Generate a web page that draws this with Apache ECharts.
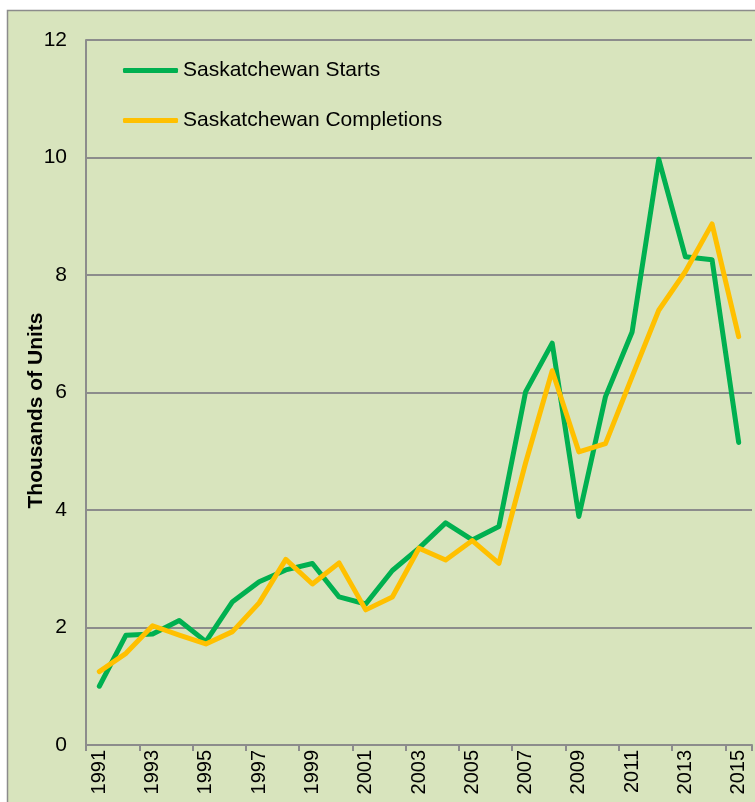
<!DOCTYPE html>
<html>
<head>
<meta charset="utf-8">
<script src="https://cdn.jsdelivr.net/npm/echarts@6/dist/echarts.min.js"></script>
<style>
  html, body { margin: 0; padding: 0; background: #fff; }
  #chart { width: 755px; height: 802px; }
</style>
</head>
<body>
<div id="chart"></div>
<script>
var years = ['1991', '1992', '1993', '1994', '1995', '1996', '1997', '1998', '1999', '2000',
    '2001', '2002', '2003', '2004', '2005', '2006', '2007', '2008', '2009', '2010',
    '2011', '2012', '2013', '2014', '2015'];
// thousands of units
var starts = [1.00, 1.87, 1.89, 2.12, 1.76, 2.44, 2.78, 2.98, 3.09, 2.52,
    2.40, 2.97, 3.35, 3.78, 3.49, 3.72, 6.01, 6.84, 3.89, 5.93,
    7.03, 9.97, 8.31, 8.26, 5.15];
var completions = [1.25, 1.56, 2.03, 1.87, 1.72, 1.93, 2.42, 3.16, 2.74, 3.10,
    2.30, 2.52, 3.35, 3.15, 3.48, 3.09, 4.80, 6.37, 4.99, 5.13,
    6.27, 7.40, 8.06, 8.87, 6.95];

var chart = echarts.init(document.getElementById('chart'));
var font = 'Liberation Sans, Arial, sans-serif';
var gray = '#8c8c8c';

var option = {
    backgroundColor: '#fff',
    animation: false,
    textStyle: { fontFamily: font },
    graphic: [{
        type: 'rect',
        z: -100,
        shape: { x: 7.5, y: 10.5, width: 800, height: 820 },
        style: { fill: '#d8e4bd', stroke: gray, lineWidth: 1.5 }
    }],
    grid: { left: 86, top: 40, right: 3, bottom: 57 },
    legend: {
        orient: 'vertical',
        left: 123,
        top: 60,
        padding: 0,
        itemWidth: 55,
        itemHeight: 5,
        itemGap: 29,
        icon: 'roundRect',
        textStyle: { fontSize: 21, color: '#000', fontFamily: font },
        data: ['Saskatchewan Starts', 'Saskatchewan Completions']
    },
    xAxis: {
        type: 'category',
        data: years,
        boundaryGap: true,
        axisLine: { lineStyle: { color: gray, width: 2 } },
        axisTick: { show: true, interval: 1, length: 6, lineStyle: { color: gray, width: 2 } },
        axisLabel: { interval: 1, rotate: 90, margin: 5, fontSize: 20, color: '#000', fontFamily: font }
    },
    yAxis: {
        type: 'value',
        min: 0,
        max: 12,
        interval: 2,
        name: 'Thousands of Units',
        nameLocation: 'middle',
        nameGap: 39,
        nameMoveOverlap: false,
        nameTextStyle: { fontSize: 21, fontWeight: 'bold', color: '#000', fontFamily: font, padding: [0, 0, 0, -36] },
        axisLine: { show: true, lineStyle: { color: gray, width: 2 } },
        axisTick: { show: false },
        splitLine: { lineStyle: { color: gray, width: 2 } },
        axisLabel: { margin: 19, fontSize: 21, color: '#000', fontFamily: font }
    },
    series: [{
        name: 'Saskatchewan Starts',
        type: 'line',
        data: starts,
        symbol: 'none',
        color: '#00b050',
        lineStyle: { width: 5, color: '#00b050', cap: 'round', join: 'round' }
    }, {
        name: 'Saskatchewan Completions',
        type: 'line',
        data: completions,
        symbol: 'none',
        color: '#ffc000',
        lineStyle: { width: 5, color: '#ffc000', cap: 'round', join: 'round' }
    }]
};
chart.setOption(option);
</script>
</body>
</html>
